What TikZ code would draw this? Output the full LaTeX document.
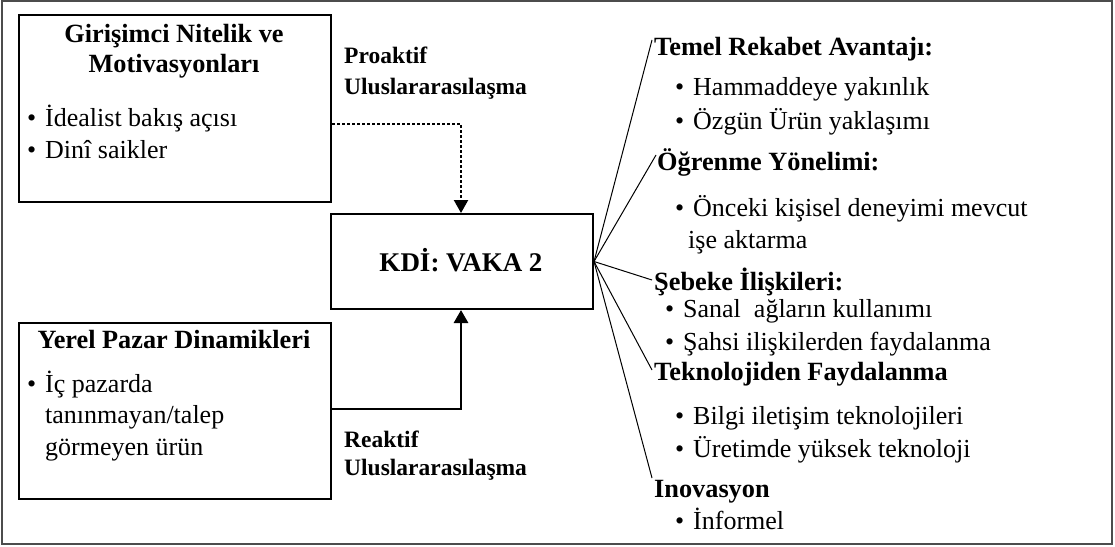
\documentclass[tikz,border=0pt]{standalone}
\usepackage{fontspec}
\setmainfont{Liberation Serif}
\usetikzlibrary{arrows.meta}
\newcommand\bul{\makebox[18pt][l]{•}}
\tikzset{
  box/.style={draw, line width=2pt, anchor=north west, inner sep=0pt},
  txt/.style={anchor=base west, inner sep=0pt, font=\fontsize{26}{31}\selectfont},
  head/.style={anchor=base west, inner sep=0pt, font=\fontsize{26.3}{31}\selectfont\bfseries},
  ctitle/.style={anchor=base, inner sep=0pt, align=center, font=\fontsize{26.3}{30}\selectfont\bfseries},
  flowlbl/.style={anchor=base west, inner sep=0pt, font=\fontsize{23.5}{31}\selectfont\bfseries},
  fan/.style={line width=1pt},
  tip/.style={-{Triangle[length=13pt,width=14pt]}}
}
\begin{document}
\begin{tikzpicture}[x=1pt,y=-1pt]
\useasboundingbox (0,0) rectangle (1115,546);
% outer frame
\draw[line width=1.2pt, black!70] (2,1) rectangle (1112,544);

% left boxes and the central case box
\node[box, minimum width=312pt, minimum height=187pt] (mot) at (18,14) {};
\node[box, minimum width=312pt, minimum height=176pt] (pazar) at (18,322) {};
\node[box, minimum width=262pt, minimum height=95pt] (kdi) at (330,213) {};

% entrepreneur box text
\node[ctitle] (mot1) at (174,42) {Girişimci Nitelik ve};
\node[ctitle] (mot2) at (174,72) {Motivasyonları};
\node[txt] (mot3) at (27,126) {\bul İdealist bakış açısı};
\node[txt] (mot4) at (27,158) {\bul Dinî saikler};

% local market box text
\node[ctitle] (paz1) at (174,348) {Yerel Pazar Dinamikleri};
\node[txt] (paz2) at (27,392) {\bul İç pazarda};
\node[txt] (paz3) at (45,423) {tanınmayan/talep};
\node[txt] (paz4) at (45,455) {görmeyen ürün};

% central label
\node[ctitle, font=\fontsize{27}{30}\selectfont\bfseries] (kdit) at (461,271) {KDİ: VAKA 2};

% flow labels
\node[flowlbl] (pro1) at (344,63) {Proaktif};
\node[flowlbl] (pro2) at (344,94) {Uluslararasılaşma};
\node[flowlbl] (rea1) at (344,447) {Reaktif};
\node[flowlbl] (rea2) at (344,475) {Uluslararasılaşma};

% proactive (dotted) and reactive (solid) paths
\coordinate (pbend) at (461,124);
\coordinate (rbend) at (461,409);
\draw[tip, line width=2.2pt, dash pattern=on 2.5pt off 2.5pt] (mot.east |- pbend) -- (pbend) -- (kdi.north -| pbend);
\draw[tip, line width=2.8pt] (pazar.east |- rbend) -- (rbend) -- (kdi.south -| rbend);

% right-hand factors
\node[head] (h1) at (654,55) {Temel Rekabet Avantajı:};
\node[txt] (i11) at (675,95) {\bul Hammaddeye yakınlık};
\node[txt] (i12) at (675,129) {\bul Özgün Ürün yaklaşımı};
\node[head] (h2) at (657,170) {Öğrenme Yönelimi:};
\node[txt] (i21) at (675,216) {\bul Önceki kişisel deneyimi mevcut};
\node[txt] (i22) at (688,248) {işe aktarma};
\node[head] (h3) at (654,290) {Şebeke İlişkileri:};
\node[txt] (i31) at (665,317) {\bul Sanal\ \ ağların kullanımı};
\node[txt] (i32) at (665,350) {\bul Şahsi ilişkilerden faydalanma};
\node[head] (h4) at (654,380) {Teknolojiden Faydalanma};
\node[txt] (i41) at (675,424) {\bul Bilgi iletişim teknolojileri};
\node[txt] (i42) at (675,457) {\bul Üretimde yüksek teknoloji};
\node[head] (h5) at (654,497) {Inovasyon};
\node[txt] (i51) at (675,529) {\bul İnformel};

% fan of lines from the case box
\coordinate (f1) at (652,40);
\coordinate (f2) at (656,155);
\coordinate (f3) at (652,280);
\coordinate (f4) at (652,370);
\coordinate (f5) at (652,478);
\foreach \f in {f1,f2,f3,f4,f5}
  \draw[fan] (kdi.east) -- (\f);
\end{tikzpicture}
\end{document}
